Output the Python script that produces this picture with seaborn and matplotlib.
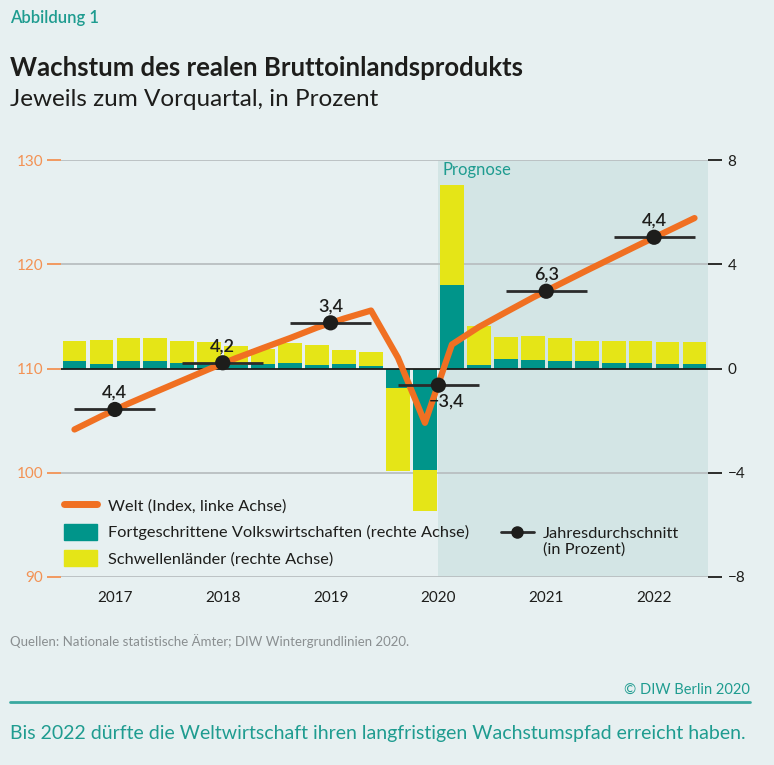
import matplotlib
matplotlib.use("Agg")
import matplotlib.pyplot as plt
from matplotlib.lines import Line2D
from matplotlib.patches import Patch
import numpy as np
import pandas as pd
import seaborn as sns

# quarterly growth vs. previous quarter, 2017Q1 .. 2022Q4 (right axis, percent)
quarters = [f"{y}Q{q}" for y in range(2017, 2023) for q in range(1, 5)]
advanced = [0.28, 0.18, 0.28, 0.28, 0.23, 0.18, 0.13, 0.18, 0.23, 0.13, 0.18, 0.08,
            -0.75, -3.9, 3.2, 0.13, 0.38, 0.33, 0.28, 0.28, 0.23, 0.23, 0.18, 0.18]
emerging = [0.78, 0.93, 0.88, 0.88, 0.83, 0.83, 0.73, 0.57, 0.73, 0.78, 0.52, 0.57,
            -3.2, -1.57, 3.85, 1.5, 0.83, 0.93, 0.88, 0.78, 0.83, 0.83, 0.83, 0.83]
# world GDP index (left axis)
world = [104.15, 105.43, 106.63, 107.75, 108.85, 109.95, 111.0, 111.97, 112.92, 113.93,
         114.79, 115.56, 111.03, 104.79, 112.3, 113.98, 115.4, 116.8, 118.1, 119.4,
         120.67, 121.94, 123.18, 124.43]
# annual averages
years = [2017, 2018, 2019, 2020, 2021, 2022]
avg_growth = [4.4, 4.2, 3.4, -3.4, 6.3, 4.4]
avg_index = [106.07, 110.55, 114.38, 108.4, 117.41, 122.59]

BG = "#e7f0f1"
PROG = "#d3e5e5"
TEAL = "#00958a"
YELLOW = "#e5e517"
ORANGE = "#f07022"
ORANGE_L = "#f39254"
DARK = "#1d1d1b"
TEAL_T = "#1f9c90"
GRID = "#b9bfc1"
GRAY_T = "#8a8f91"

sns.set_style("white")
plt.rcParams["font.family"] = ["Lato", "DejaVu Sans"]

df = pd.DataFrame({"quarter": quarters, "adv": advanced, "emg": emerging})
df["total"] = df["adv"] + df["emg"]

fig = plt.figure(figsize=(7.74, 7.65), dpi=100, facecolor=BG)
ax = fig.add_axes([61 / 774, 1 - 577 / 765, 647 / 774, 417 / 765])
ax.set_facecolor(BG)

# forecast shading + grid
ax.axvspan(13.5, 23.5, color=PROG, lw=0, zorder=0)
for y in [-8, -4, 4, 8]:
    ax.axhline(y, color=GRID, lw=1.3, zorder=1)

# stacked bars: draw totals in yellow, advanced economies on top in teal
sns.barplot(data=df, x="quarter", y="total", color=YELLOW, saturation=1, width=0.88,
            linewidth=0, ax=ax, zorder=3)
sns.barplot(data=df, x="quarter", y="adv", color=TEAL, saturation=1, width=0.88,
            linewidth=0, ax=ax, zorder=3)
ax.axhline(0, color=DARK, lw=1.3, zorder=4)

ax.set_xlim(-0.5, 23.5)
ax.set_ylim(-8, 8)
ax.set_xlabel("")
ax.set_ylabel("")

ax2 = ax.twinx()
ax2.set_ylim(90, 130)
sns.lineplot(x=np.arange(len(world)), y=world, ax=ax2, color=ORANGE, lw=4.5,
             solid_capstyle="round", zorder=5)

year_start = np.arange(len(years)) * 4
ax2.hlines(avg_index, year_start, year_start + 3, color="#2b2b2b", lw=2, zorder=6)
sns.scatterplot(x=year_start + 1.5, y=avg_index, color=DARK, s=120, edgecolor="none",
                ax=ax2, zorder=7)
for i, (g, v) in enumerate(zip(avg_growth, avg_index)):
    txt = f"{g:.1f}".replace(".", ",").replace("-", "\u2212")
    off = (6, -12) if g < 0 else (0, 12)
    ax2.annotate(txt, (year_start[i] + 1.5, v), xytext=off, textcoords="offset points",
                 ha="center", va="center", fontsize=13, fontweight="semibold", color=DARK,
                 zorder=8)

# right axis (bars)
ax.yaxis.tick_right()
ax.set_yticks([-8, -4, 0, 4, 8])
ax.set_yticklabels(["\u22128", "\u22124", "0", "4", "8"])
ax.tick_params(axis="y", length=10, width=1.3, color=DARK, labelcolor=DARK, labelsize=11, pad=4)
# left axis (index)
ax2.yaxis.tick_left()
ax2.set_yticks([90, 100, 110, 120, 130])
ax2.tick_params(axis="y", length=10, width=1.3, color=ORANGE_L, labelcolor=ORANGE_L,
                labelsize=11, pad=3)
ax2.set_ylabel("")

# x axis: long ticks at year boundaries, short at quarters, year labels in the middle
ax.set_xticks(np.arange(-0.5, 24, 4))
ax.set_xticklabels([""] * 7)
minor = [k - 0.5 for k in range(1, 24) if k % 4 != 0]
ax.set_xticks(minor, minor=True)
ax.set_xticklabels([str(years[int(m) // 4]) if (m + 0.5) % 4 == 2 else "" for m in minor],
                   minor=True)
ax.tick_params(axis="x", which="major", length=15, width=1.3, color="#4a4a4a")
ax.tick_params(axis="x", which="minor", length=8, width=1.3, color="#4a4a4a",
               labelsize=11, labelcolor=DARK, pad=2)

for a in (ax, ax2):
    for s in a.spines.values():
        s.set_visible(False)

ax.text(13.65, 7.6, "Prognose", color=TEAL_T, fontsize=12, va="center", zorder=8)

# legends
h1 = Line2D([], [], color=ORANGE, lw=5, solid_capstyle="round")
h2 = Patch(color=TEAL)
h3 = Patch(color=YELLOW)
leg1 = ax2.legend([h1, h2, h3],
                  ["Welt (Index, linke Achse)",
                   "Fortgeschrittene Volkswirtschaften (rechte Achse)",
                   "Schwellenländer (rechte Achse)"],
                  loc="upper left", bbox_to_anchor=(-0.005, 0.207), frameon=False,
                  fontsize=11.8, handlelength=2.0, handleheight=1.1, labelspacing=0.62,
                  handletextpad=0.65, borderaxespad=0, labelcolor=DARK)
ax2.add_artist(leg1)
h4 = Line2D([], [], color="#2b2b2b", lw=2, marker="o", markersize=8, markerfacecolor=DARK,
            markeredgecolor=DARK)
h5 = Line2D([], [], alpha=0)
ax2.legend([h4, h5], ["Jahresdurchschnitt", "(in Prozent)"], loc="upper left",
           bbox_to_anchor=(0.67, 0.137), frameon=False, fontsize=11.8, handlelength=2.0,
           labelspacing=0.1, handletextpad=0.55, borderaxespad=0, labelcolor=DARK)

# header and footer
fig.text(10 / 774, 1 - 18 / 765, "Abbildung 1", color=TEAL_T, fontsize=12,
         fontweight="semibold", va="center")
fig.text(10 / 774, 1 - 68 / 765, "Wachstum des realen Bruttoinlandsprodukts", color=DARK,
         fontsize=18.5, fontweight="bold", va="center")
fig.text(10 / 774, 1 - 100 / 765, "Jeweils zum Vorquartal, in Prozent", color=DARK,
         fontsize=17.5, va="center")
fig.text(10 / 774, 1 - 641 / 765,
         "Quellen: Nationale statistische Ämter; DIW Wintergrundlinien 2020.",
         color=GRAY_T, fontsize=9.5, va="center")
fig.text(750 / 774, 1 - 690 / 765, "© DIW Berlin 2020", color=TEAL_T, fontsize=10.5,
         ha="right", va="center")
fig.add_artist(Line2D([10 / 774, 750 / 774], [1 - 702 / 765] * 2, color="#3aa9a0", lw=2))
fig.text(10 / 774, 1 - 733 / 765,
         "Bis 2022 dürfte die Weltwirtschaft ihren langfristigen Wachstumspfad erreicht haben.",
         color=TEAL_T, fontsize=14, va="center")

fig.savefig("out.png", dpi=100, facecolor=BG)
